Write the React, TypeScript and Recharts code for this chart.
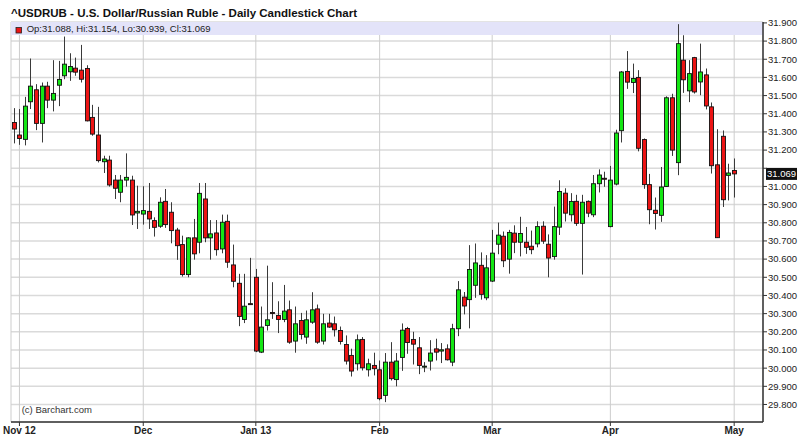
import React from 'react';
import {
  ComposedChart,
  Bar,
  XAxis,
  YAxis,
  CartesianGrid,
  ReferenceArea,
  ReferenceLine,
} from 'recharts';

// Daily USD/RUB candles, Oct 31 2012 - May 1 2013
const opens = [
  31.352, 31.283, 31.259, 31.466, 31.532, 31.347, 31.552, 31.475, 31.557, 31.609,
  31.631, 31.651, 31.64, 31.649, 31.38, 31.283, 31.136, 31.145, 31.035, 30.968,
  31.035, 31.035, 30.854, 30.848, 30.863, 30.812, 30.781, 30.918, 30.858, 30.76,
  30.68, 30.515, 30.717, 30.693, 30.931, 30.717, 30.744, 30.656, 30.808, 30.568,
  30.467, 30.268, 30.355, 30.5, 30.088, 30.235, 30.306, 30.29, 30.268, 30.321,
  30.149, 30.262, 30.171, 30.253, 30.326, 30.149, 30.248, 30.244, 30.207, 30.13,
  30.07, 30.024, 30.158, 29.991, 30.015, 29.991, 29.85, 30.033, 29.937, 30.059,
  30.218, 30.158, 30.112, 30.009, 30.039, 30.106, 30.094, 30.106, 30.033, 30.217,
  30.391, 30.377, 30.456, 30.566, 30.387, 30.479, 30.682, 30.726, 30.6, 30.743,
  30.693, 30.693, 30.671, 30.684, 30.781, 30.682, 30.614, 30.776, 30.963, 30.844,
  30.918, 30.797, 30.918, 30.844, 31.015, 31.045, 30.779, 31.013, 31.307, 31.633,
  31.572, 31.6, 31.258, 31.01, 30.869, 30.841, 31.0, 31.488, 31.131, 31.695,
  31.526, 31.709, 31.575, 31.614, 31.438, 31.119, 31.276, 31.061, 31.088,
];
const highs = [
  31.431, 31.426, 31.493, 31.704, 31.563, 31.572, 31.576, 31.695, 31.691, 31.825,
  31.733, 31.709, 31.779, 31.667, 31.449, 31.438, 31.169, 31.169, 31.063, 31.063,
  31.182, 31.059, 31.004, 31.001, 31.019, 30.83, 30.94, 30.986, 30.913, 30.772,
  30.729, 30.72, 30.821, 31.019, 31.019, 30.815, 30.815, 30.845, 30.845, 30.68,
  30.519, 30.519, 30.607, 30.546, 30.339, 30.564, 30.473, 30.368, 30.458, 30.372,
  30.339, 30.304, 30.317, 30.418, 30.35, 30.299, 30.299, 30.284, 30.229, 30.18,
  30.107, 30.185, 30.171, 30.052, 30.085, 30.042, 30.083, 30.143, 30.083, 30.246,
  30.227, 30.2, 30.171, 30.033, 30.154, 30.162, 30.138, 30.131, 30.244, 30.479,
  30.419, 30.677, 30.686, 30.637, 30.622, 30.761, 30.801, 30.752, 30.761, 30.786,
  30.833, 30.777, 30.757, 30.808, 30.808, 30.736, 30.889, 31.034, 30.99, 30.963,
  30.954, 30.954, 30.923, 31.063, 31.094, 31.081, 31.113, 31.312, 31.635, 31.745,
  31.676, 31.64, 31.264, 31.069, 30.939, 31.107, 31.496, 31.51, 31.893, 31.832,
  31.695, 31.713, 31.786, 31.649, 31.462, 31.315, 31.308, 31.125, 31.154,
];
const lows = [
  31.237, 31.229, 31.226, 31.426, 31.31, 31.242, 31.431, 31.413, 31.442, 31.59,
  31.581, 31.609, 31.572, 31.358, 31.279, 31.132, 31.074, 30.999, 30.931, 30.913,
  30.999, 30.788, 30.766, 30.79, 30.766, 30.724, 30.772, 30.772, 30.687, 30.596,
  30.504, 30.5, 30.597, 30.632, 30.693, 30.597, 30.619, 30.632, 30.552, 30.445,
  30.231, 30.248, 30.35, 30.088, 30.083, 30.207, 30.271, 30.193, 30.253, 30.134,
  30.085, 30.158, 30.134, 30.244, 30.134, 30.13, 30.222, 30.174, 30.13, 30.02,
  29.954, 29.987, 29.987, 29.954, 29.96, 29.823, 29.813, 29.932, 29.9, 29.985,
  30.079, 30.02, 29.967, 29.978, 29.987, 30.042, 30.028, 30.042, 30.011, 30.176,
  30.296, 30.219, 30.387, 30.377, 30.374, 30.474, 30.627, 30.556, 30.52, 30.633,
  30.615, 30.629, 30.627, 30.665, 30.684, 30.5, 30.597, 30.733, 30.807, 30.807,
  30.783, 30.515, 30.831, 30.831, 30.967, 30.998, 30.775, 31.006, 31.242, 31.537,
  31.514, 31.193, 30.987, 30.792, 30.763, 30.805, 30.997, 31.168, 31.062, 31.515,
  31.464, 31.511, 31.502, 31.424, 31.071, 30.718, 30.887, 30.923, 30.939,
];
const closes = [
  31.316, 31.264, 31.442, 31.552, 31.347, 31.552, 31.475, 31.512, 31.589, 31.673,
  31.66, 31.629, 31.59, 31.361, 31.288, 31.142, 31.151, 31.008, 30.99, 31.035,
  31.05, 30.843, 30.863, 30.867, 30.821, 30.775, 30.913, 30.79, 30.757, 30.674,
  30.515, 30.717, 30.629, 30.962, 30.717, 30.739, 30.652, 30.803, 30.583, 30.478,
  30.284, 30.341, 30.353, 30.094, 30.226, 30.266, 30.305, 30.268, 30.314, 30.143,
  30.244, 30.185, 30.266, 30.321, 30.143, 30.244, 30.226, 30.211, 30.147, 30.039,
  29.984, 30.156, 30.002, 30.024, 29.997, 29.832, 30.033, 29.942, 30.039, 30.209,
  30.141, 30.132, 30.015, 30.011, 30.083, 30.088, 30.101, 30.046, 30.217, 30.431,
  30.342, 30.543, 30.579, 30.406, 30.552, 30.633, 30.732, 30.591, 30.747, 30.693,
  30.741, 30.665, 30.652, 30.779, 30.699, 30.606, 30.779, 30.972, 30.853, 30.917,
  30.797, 30.913, 30.853, 31.015, 31.063, 31.043, 31.035, 31.294, 31.63, 31.574,
  31.594, 31.21, 31.01, 30.872, 30.851, 30.997, 31.488, 31.2, 31.786, 31.587,
  31.621, 31.52, 31.63, 31.443, 31.114, 30.718, 30.927, 31.074, 31.069,
];

// first trading day of each month (candle index) and its label
const monthTicks = [1, 23, 43, 65, 85, 106, 128];
const monthLabels = ['Nov 12', 'Dec', 'Jan 13', 'Feb', 'Mar', 'Apr', 'May'];

const priceTicks = [
  29.8, 29.9, 30.0, 30.1, 30.2, 30.3, 30.4, 30.5, 30.6, 30.7, 30.8,
  30.9, 31.0, 31.1, 31.2, 31.3, 31.4, 31.5, 31.6, 31.7, 31.8, 31.9,
];

const candles = opens.map((o, i) => ({
  i,
  o,
  h: highs[i],
  l: lows[i],
  c: closes[i],
  range: [lows[i], highs[i]],
}));

const last = candles[candles.length - 1];
const FONT = '"Liberation Sans", Arial, sans-serif';
const UP = '#14e614';
const DOWN = '#ec1414';

function Candle(props: any) {
  const { x, y, width, height, payload } = props;
  if (x == null || y == null) return null;
  const top = Math.min(y, y + height);
  const span = Math.abs(height);
  const ppu = payload.h > payload.l ? span / (payload.h - payload.l) : 0;
  const yO = top + (payload.h - payload.o) * ppu;
  const yC = top + (payload.h - payload.c) * ppu;
  const cx = Math.round(x + width / 2) + 0.5;
  const bodyTop = Math.min(yO, yC);
  const bodyH = Math.max(Math.abs(yO - yC), 1);
  const up = payload.c >= payload.o;
  return (
    <g>
      <line x1={cx} x2={cx} y1={top} y2={top + span} stroke="#3a3a3a" strokeWidth={1} />
      <rect
        x={cx - 2}
        y={bodyTop}
        width={4}
        height={bodyH}
        fill={up ? UP : DOWN}
        stroke="#111"
        strokeWidth={0.9}
      />
    </g>
  );
}

// black box with the last close, sitting on the price axis
function PriceTag(props: any) {
  const vb = props.viewBox;
  if (!vb) return null;
  const x = vb.x + vb.width + 3;
  return (
    <g>
      <rect x={x} y={vb.y - 6} width={31} height={12} fill="#111" />
      <text
        x={x + 15.5}
        y={vb.y + 3.5}
        textAnchor="middle"
        fill="#fff"
        fontSize={9.5}
        fontFamily={FONT}
      >
        {last.c.toFixed(3)}
      </text>
    </g>
  );
}

export default function App() {
  return (
    <div style={{ position: 'absolute', left: 0, top: 0, width: 800, height: 445, background: '#fff' }}>
      <ComposedChart
        width={800}
        height={445}
        data={candles}
        margin={{ top: 22, right: 0, bottom: 0, left: 11 }}
      >
        <ReferenceArea
          xAxisId="top"
          y1={31.833}
          y2={31.905}
          fill="#e3e3f9"
          fillOpacity={1}
          stroke="none"
        />
        <CartesianGrid vertical={false} stroke="#dadada" strokeWidth={1.5} />
        <CartesianGrid horizontal={false} stroke="#cdcdcd" strokeWidth={1} />
        <XAxis
          dataKey="i"
          type="category"
          ticks={monthTicks}
          interval={0}
          padding={{ left: 0, right: 26 }}
          height={23}
          tickSize={4}
          tickMargin={1}
          tickLine={{ stroke: '#333' }}
          axisLine={{ stroke: '#333', strokeWidth: 1.5 }}
          tick={{ fontSize: 10, fontWeight: 'bold', fill: '#222', fontFamily: FONT }}
          tickFormatter={(v) => monthLabels[monthTicks.indexOf(v)] ?? ''}
        />
        <XAxis
          xAxisId="top"
          dataKey="i"
          type="category"
          orientation="top"
          height={0}
          tick={false}
          tickLine={false}
          axisLine={{ stroke: '#333', strokeWidth: 1.5 }}
        />
        <YAxis
          orientation="right"
          type="number"
          domain={[29.7036, 31.905]}
          allowDataOverflow
          ticks={priceTicks}
          interval={0}
          width={37}
          tickSize={4}
          tickMargin={1}
          tickLine={{ stroke: '#333' }}
          axisLine={{ stroke: '#333', strokeWidth: 1.5 }}
          tick={{ fontSize: 9.5, fill: '#222', fontFamily: FONT, textAnchor: 'start' }}
          tickFormatter={(v) => (Math.abs(v - last.c) < 0.05 ? '' : v.toFixed(3))}
        />
        <YAxis
          yAxisId="frame"
          orientation="left"
          type="number"
          domain={[0, 1]}
          width={0}
          tick={false}
          tickLine={false}
          axisLine={{ stroke: '#333', strokeWidth: 1.5 }}
        />
        <Bar dataKey="range" barSize={5} shape={<Candle />} isAnimationActive={false} />
        <ReferenceLine y={last.c} stroke="none" label={<PriceTag />} />
      </ComposedChart>
      <svg
        width={800}
        height={445}
        style={{ position: 'absolute', left: 0, top: 0, pointerEvents: 'none' }}
      >
        <text x={11} y={16.7} fontSize={11.5} fontWeight="bold" fill="#111" fontFamily={FONT}>
          ^USDRUB - U.S. Dollar/Russian Ruble - Daily Candlestick Chart
        </text>
        <rect x={16} y={27.5} width={5.5} height={5.5} fill={DOWN} stroke="#222" strokeWidth={0.8} />
        <text x={26.7} y={32.4} fontSize={9.5} fill="#222" fontFamily={FONT}>
          {`Op:${last.o.toFixed(3)}, Hi:${last.h.toFixed(3)}, Lo:${last.l.toFixed(3)}, Cl:${last.c.toFixed(3)}`}
        </text>
        <text x={21.7} y={413} fontSize={9.5} fill="#333" fontFamily={FONT}>
          (c) Barchart.com
        </text>
      </svg>
    </div>
  );
}
